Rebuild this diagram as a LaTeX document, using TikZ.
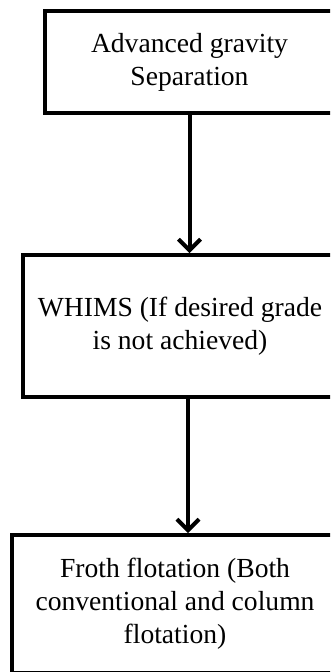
\documentclass[tikz,border=0pt]{standalone}
\usepackage{fontspec}
\setmainfont{Liberation Serif}
\usetikzlibrary{arrows.meta}
\begin{document}
\begin{tikzpicture}[x=1pt,y=-1pt,
  box/.style={draw=black, line width=4pt, align=center, inner sep=0pt,
    font=\fontsize{27.6}{33}\selectfont},
  arr/.style={line width=4pt, -{Straight Barb[length=11pt,width=22pt,line width=4pt]}}]
\fill[white] (0,0) rectangle (330,672);
\clip (0,0) rectangle (330,672);
\node[box, minimum width=289pt, minimum height=102pt] (b1) at (189.5,62)
  {Advanced gravity\\Separation};
\node[box, minimum width=314pt, minimum height=142pt] (b2) at (180,326)
  {WHIMS (If desired grade\\is not achieved)};
\node[box, minimum width=326pt, minimum height=138pt] (b3) at (175,604)
  {Froth flotation (Both\\conventional and column\\flotation)};
\draw[arr] (b1.south) -- (b1.south |- b2.north);
\draw[arr] ([xshift=8pt]b2.south) -- ([xshift=8pt]b2.south |- b3.north);
\end{tikzpicture}
\end{document}
